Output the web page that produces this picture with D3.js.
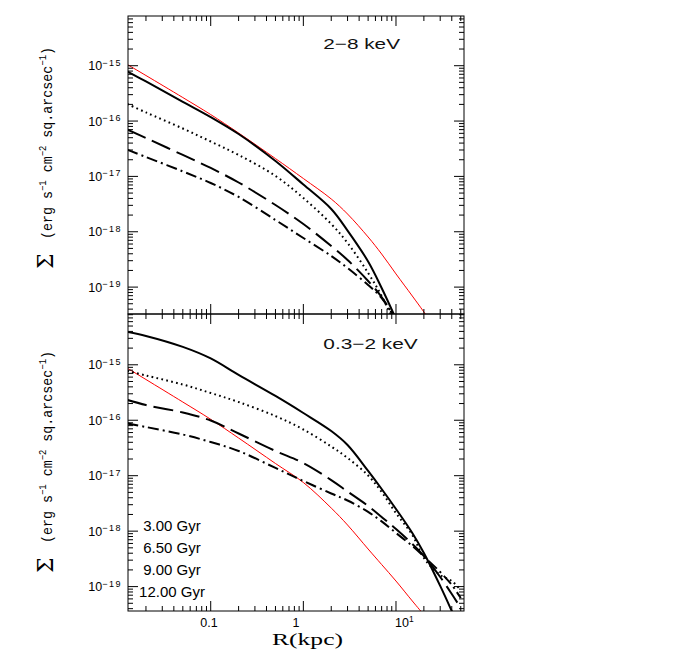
<!DOCTYPE html>
<html><head><meta charset="utf-8">
<script src="https://cdn.jsdelivr.net/npm/d3@7"></script>
<style>html,body{margin:0;padding:0;background:#fff;}svg{display:block;}</style>
</head><body>
<script>
// ---------------- data ----------------
const radius = [0.0126, 0.02, 0.05, 0.1, 0.2, 0.5, 1, 2, 3, 5, 7, 10, 15, 20, 30, 40, 50];
const ages = ["3.00 Gyr", "6.50 Gyr", "9.00 Gyr", "12.00 Gyr"];
const panelTitles = ["2\u22128 keV", "0.3\u22122 keV"];
const xTickLabels = ["0.1", "1", "10"];
const yTickExps = [-15, -16, -17, -18, -19];

// 2-8 keV
const hard3   = [7.86e-16, 5.19e-16, 2.23e-16, 1.18e-16, 5.83e-17, 1.90e-17, 7.14e-18, 2.58e-18, 1.05e-18, 2.90e-19, 9.64e-20, 2.65e-20, null, null, null, null, null];
const hard65  = [2.03e-16, 1.43e-16, 7.33e-17, 4.27e-17, 2.44e-17, 1.02e-17, 4.07e-18, 1.38e-18, 6.27e-19, 1.80e-19, 6.90e-20, 1.98e-20, null, null, null, null, null];
const hard9   = [7.03e-17, 4.94e-17, 2.44e-17, 1.42e-17, 7.76e-18, 3.04e-18, 1.38e-18, 5.53e-19, 3.09e-19, 1.29e-19, 6.62e-20, 2.55e-20, null, null, null, null, null];
const hard12  = [3.03e-17, 2.24e-17, 1.23e-17, 7.60e-18, 4.25e-18, 1.63e-18, 7.71e-19, 3.65e-19, 2.21e-19, 1.09e-19, 6.35e-20, 2.55e-20, null, null, null, null, null];
const hardRef = [1.05e-15, 6.65e-16, 2.66e-16, 1.31e-16, 6.08e-17, 2.10e-17, 9.16e-18, 3.91e-18, 2.09e-18, 8.04e-19, 3.96e-19, 1.73e-19, 6.90e-20, 3.55e-20, 1.31e-20, null, null];

// 0.3-2 keV
const soft3   = [3.91e-15, 3.31e-15, 2.10e-15, 1.30e-15, 6.55e-16, 2.74e-16, 1.35e-16, 6.39e-17, 3.58e-17, 1.22e-17, 5.76e-18, 2.51e-18, 9.27e-19, 4.04e-19, 1.03e-19, 3.63e-20, 1.58e-20];
const soft65  = [7.73e-16, 6.41e-16, 4.41e-16, 3.10e-16, 2.13e-16, 1.19e-16, 6.81e-17, 3.36e-17, 2.09e-17, 1.01e-17, 5.08e-18, 2.11e-18, 8.53e-19, 3.28e-19, 1.62e-19, 1.26e-19, 8.67e-20];
const soft9   = [2.32e-16, 1.88e-16, 1.38e-16, 9.89e-17, 5.77e-17, 2.79e-17, 1.69e-17, 8.35e-18, 5.19e-18, 2.84e-18, 1.80e-18, 1.09e-18, 5.87e-19, 3.56e-19, 1.49e-19, 7.36e-20, 4.11e-20];
const soft12  = [8.73e-17, 7.55e-17, 5.53e-17, 4.05e-17, 2.79e-17, 1.38e-17, 8.02e-18, 4.78e-18, 3.57e-18, 2.22e-18, 1.50e-18, 9.27e-19, 5.40e-19, 3.49e-19, 1.83e-19, 1.07e-19, 6.22e-20];
const softRef = [8.68e-16, 5.43e-16, 2.13e-16, 1.04e-16, 4.78e-17, 1.66e-17, 7.54e-18, 2.61e-18, 1.29e-18, 4.76e-19, 2.50e-19, 1.26e-19, 5.5e-20, 3.1e-20, null, null, null];

// ---------------- layout ----------------
const W = 692, H = 654;
const svg = d3.select("body").append("svg").attr("width", W).attr("height", H);

const xL = 128, xR = 464;
const x = d3.scaleLog().domain([0.0128, 54.2]).range([xL, xR]);

const panels = [
  {top: 16, bottom: 314, dom: [Math.pow(10, -19.486), Math.pow(10, -14.102)],
   series: [hard3, hard65, hard9, hard12], ref: hardRef, title: panelTitles[0], titleY: 49.3, labelStart: 269},
  {top: 314, bottom: 611, dom: [Math.pow(10, -19.44), Math.pow(10, -14.084)],
   series: [soft3, soft65, soft9, soft12], ref: softRef, title: panelTitles[1], titleY: 348.7, labelStart: 573}
];

const styles = [
  {dash: null, w: 2},
  {dash: "1.7,3.3", w: 2},
  {dash: "20,7", w: 2},
  {dash: "11,4,2,4", w: 2}
];

const majorX = [0.1, 1, 10];
const minorX = [];
for (let e = -2; e <= 1; e++) for (let k = 2; k <= 9; k++) {
  const v = k * Math.pow(10, e);
  if (v > 0.0128 && v < 54.2) minorX.push(v);
}

panels.forEach((p, pi) => {
  const y = d3.scaleLog().domain(p.dom).range([p.bottom, p.top]);
  const g = svg.append("g");
  const clipId = "clip" + pi;
  svg.append("clipPath").attr("id", clipId).append("rect")
    .attr("x", xL).attr("y", p.top).attr("width", xR - xL).attr("height", p.bottom - p.top);

  const line = d3.line()
    .defined(d => d.v != null)
    .x(d => x(d.r)).y(d => y(d.v))
    .curve(d3.curveCatmullRom.alpha(0.5));

  const lines = g.append("g").attr("clip-path", `url(#${clipId})`);
  lines.append("path")
    .attr("d", line(radius.map((r, i) => ({r, v: p.ref[i]}))))
    .attr("fill", "none").attr("stroke", "#ff0000").attr("stroke-width", 1);
  p.series.forEach((s, si) => {
    lines.append("path")
      .attr("d", line(radius.map((r, i) => ({r, v: s[i]}))))
      .attr("fill", "none").attr("stroke", "#000")
      .attr("stroke-width", styles[si].w)
      .attr("stroke-dasharray", styles[si].dash)
      .attr("stroke-linejoin", "round");
  });

  // frame
  const ax = g.append("g").attr("stroke", "#000").attr("stroke-width", 1).attr("fill", "none");
  ax.append("rect").attr("x", xL).attr("y", p.top).attr("width", xR - xL).attr("height", p.bottom - p.top);

  const xt = (v, len) => {
    ax.append("line").attr("x1", x(v)).attr("x2", x(v)).attr("y1", p.top).attr("y2", p.top + len);
    ax.append("line").attr("x1", x(v)).attr("x2", x(v)).attr("y1", p.bottom).attr("y2", p.bottom - len);
  };
  majorX.forEach(v => xt(v, 10));
  minorX.forEach(v => xt(v, 5));

  const [lo, hi] = p.dom;
  for (let e = -20; e <= -14; e++) for (let k = 1; k <= 9; k++) {
    const v = k * Math.pow(10, e);
    if (v <= lo || v >= hi) continue;
    const len = k === 1 ? 10 : 5;
    ax.append("line").attr("x1", xL).attr("x2", xL + len).attr("y1", y(v)).attr("y2", y(v));
    ax.append("line").attr("x1", xR).attr("x2", xR - len).attr("y1", y(v)).attr("y2", y(v));
  }

  // y tick labels
  yTickExps.forEach(e => {
    const t = g.append("text").attr("x", 122).attr("y", y(Math.pow(10, e)) + 4.5)
      .attr("text-anchor", "end").attr("font-family", "Liberation Sans, Arial, sans-serif")
      .attr("font-size", 12.5).attr("fill", "#000");
    t.append("tspan").text("10");
    t.append("tspan").attr("font-size", 9).attr("dy", -4.5).attr("letter-spacing", 1.5).text("\u2212" + (-e));
  });

  // panel title
  g.append("text").attr("x", 323.3).attr("y", p.titleY)
    .attr("font-family", "Liberation Sans, Arial, sans-serif").attr("font-size", 15)
    .attr("textLength", pi === 0 ? 76.7 : 94.4).attr("lengthAdjust", "spacingAndGlyphs")
    .attr("fill", "#111").text(p.title);

  // y axis label (rotated)
  const lab = g.append("g").attr("transform", `translate(53,${p.labelStart}) rotate(-90)`);
  lab.append("text").attr("x", 0).attr("y", 0)
    .attr("font-family", "DejaVu Serif, serif").attr("font-size", 22).attr("fill", "#000")
    .text("\u03A3");
  const t2 = lab.append("text").attr("x", 30).attr("y", -1)
    .attr("font-family", "Liberation Mono, monospace").attr("font-size", 15).attr("fill", "#000");
  const parts = [["(erg s", 0], ["\u22121", 1], [" cm", 0], ["\u22122", 1], [" sq.arcsec", 0], ["\u22121", 1], [")", 0]];
  let up = false;
  parts.forEach(([s, sup]) => {
    const ts = t2.append("tspan").text(s);
    if (sup) ts.attr("font-size", 10);
    if (sup && !up) { ts.attr("dy", -6); up = true; }
    else if (!sup && up) { ts.attr("dy", 6); up = false; }
  });
  t2.attr("textLength", 192).attr("lengthAdjust", "spacingAndGlyphs");
});

// legend (bottom panel)
ages.forEach((a, i) => {
  svg.append("text").attr("x", 172).attr("y", 530.5 + i * 22.2)
    .attr("text-anchor", "middle").attr("font-family", "Liberation Sans, Arial, sans-serif")
    .attr("font-size", 15).attr("fill", "#000").text(a);
});

// x tick labels
const xlab = (txt, xx, anchor) => svg.append("text").attr("x", xx).attr("y", 627)
  .attr("text-anchor", anchor).attr("font-family", "Liberation Sans, Arial, sans-serif")
  .attr("font-size", 12.5).attr("fill", "#000").text(txt);
xlab(xTickLabels[0], 209, "middle");
xlab(xTickLabels[1], 296, "middle");
const t10 = xlab(xTickLabels[2], 395, "start");
t10.append("tspan").attr("font-size", 8.5).attr("dy", -5).text("1");

svg.append("text").attr("x", 307.5).attr("y", 645).attr("text-anchor", "middle")
  .attr("font-family", "Liberation Serif, Times New Roman, serif").attr("font-size", 16)
  .attr("textLength", 71).attr("lengthAdjust", "spacingAndGlyphs")
  .attr("fill", "#000").text("R(kpc)");
</script>
</body></html>
